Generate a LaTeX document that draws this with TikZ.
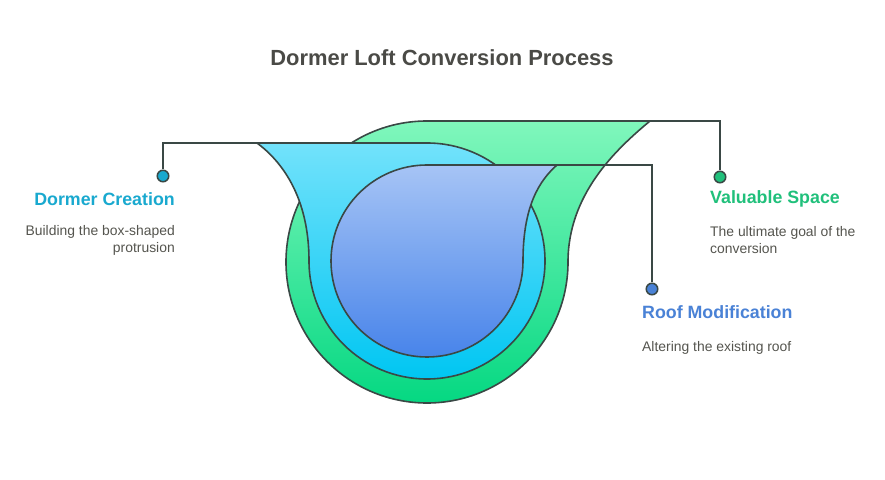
\documentclass[tikz,border=0pt]{standalone}
\usepackage{fontspec}
\setmainfont{Liberation Sans}
\definecolor{outline}{HTML}{3A4845}
\definecolor{titlec}{HTML}{4A4A46}
\definecolor{bodyc}{HTML}{55554F}
\definecolor{dormc}{HTML}{19A9CF}
\definecolor{valc}{HTML}{20C07B}
\definecolor{roofc}{HTML}{4A82D6}
\definecolor{gtop}{HTML}{80F7BC}
\definecolor{gbot}{HTML}{05D882}
\definecolor{btop}{HTML}{72E2FB}
\definecolor{bbot}{HTML}{00C6F2}
\definecolor{itop}{HTML}{A6C4F5}
\definecolor{ibot}{HTML}{4884EA}
\tikzset{
  shapeline/.style={draw=outline, line width=1.6pt, line join=round},
  conn/.style={draw=outline, line width=1.6pt},
  dotmark/.style={circle, draw=outline, line width=1.5pt, minimum size=11.5pt, inner sep=0pt},
  head/.style={font=\bfseries\fontsize{17.8}{21}\selectfont, inner sep=0pt},
  body/.style={font=\fontsize{13.9}{17}\selectfont, text=bodyc, inner sep=0pt},
}
\begin{document}
\begin{tikzpicture}[x=1pt,y=1pt]
\path[fill=white] (0,0) rectangle (885,479);
\useasboundingbox (0,0) rectangle (885,479);

% green (outer)
\path[shapeline, top color=gtop, bottom color=gbot]
  (427,358) -- (650,358) .. controls (615,329) and (568,284) .. (568,217)
  arc[start angle=0, end angle=-270, radius=141] -- cycle;
% blue (middle)
\path[shapeline, top color=btop, bottom color=bbot]
  (427,336) -- (257,336) .. controls (280,319) and (309,284) .. (309,218)
  arc[start angle=180, end angle=450, radius=118] -- cycle;
% inner
\path[shapeline, top color=itop, bottom color=ibot]
  (427,314) -- (557,314) .. controls (540,299) and (523,274) .. (523,218)
  arc[start angle=0, end angle=-270, radius=96] -- cycle;

\coordinate (gtip) at (650,358);
\coordinate (btip) at (257,336);
\coordinate (itip) at (557,314);

\node[dotmark, fill=dormc] (ddot) at (163,303) {};
\node[dotmark, fill=valc] (vdot) at (720,302) {};
\node[dotmark, fill=roofc] (rdot) at (652,190) {};

\draw[conn] (btip) -| (ddot.north);
\draw[conn] (gtip) -| (vdot.north);
\draw[conn] (itip) -| (rdot.north);

\node[font=\bfseries\fontsize{21.9}{26}\selectfont, text=titlec, inner sep=0pt] (title) at (442,421) {Dormer Loft Conversion Process};

\node[head, text=dormc, anchor=east] (dhead) at (175,280) {Dormer Creation};
\node[body, anchor=east, align=right] (dbody) at (175,238.5) {Building the box-shaped\\protrusion};

\node[head, text=valc, anchor=west] (vhead) at (710,280) {Valuable Space};
\node[body, anchor=west, align=left] (vbody) at (710,238.5) {The ultimate goal of the\\conversion};

\node[head, text=roofc, anchor=west] (rhead) at (642,167) {Roof Modification};
\node[body, anchor=west, align=left] (rbody) at (642,131) {Altering the existing roof};
\end{tikzpicture}
\end{document}
